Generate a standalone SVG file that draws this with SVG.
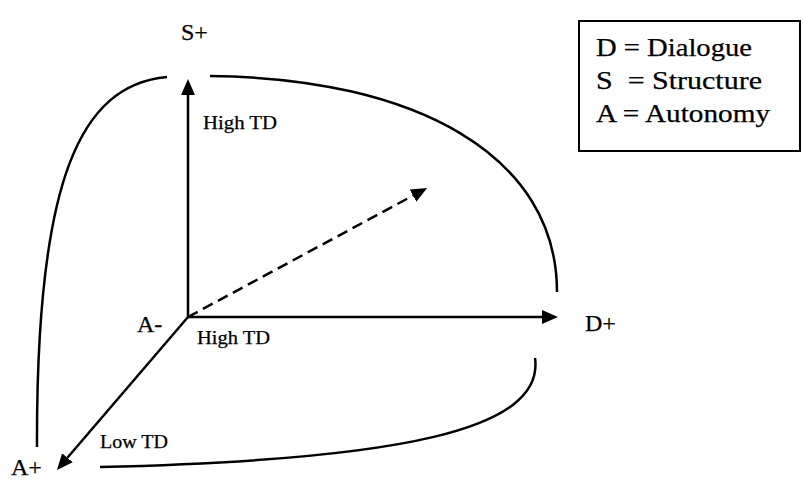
<svg xmlns="http://www.w3.org/2000/svg" width="803" height="481" viewBox="0 0 803 481">
<style>
  .axis{stroke:#000;stroke-width:2.5;fill:none}
  .curve{stroke:#000;stroke-width:2.5;fill:none}
  .dash{stroke:#000;stroke-width:2.5;fill:none;stroke-dasharray:11 6}
  .lbl{font-family:"Liberation Serif","Times New Roman",serif;fill:#000;stroke:#000;stroke-width:0.25}
  .big{font-size:24px}
  .small{font-size:18px}
  .leg{font-size:25px}
</style>
<defs>
  <marker id="ah" markerUnits="userSpaceOnUse" markerWidth="16" markerHeight="14" refX="0" refY="7" orient="auto">
    <path d="M0,0 L16,7 L0,14 z" fill="#000"/>
  </marker>
</defs>
<rect width="803" height="481" fill="#fff"/>
<g id="connectors">
  <line class="axis" x1="188" y1="317" x2="188" y2="95" marker-end="url(#ah)"/>
  <line class="axis" x1="188" y1="317" x2="542" y2="317" marker-end="url(#ah)"/>
  <line class="dash" x1="188" y1="317" x2="413" y2="195.6" marker-end="url(#ah)"/>
  <line class="axis" x1="188" y1="317" x2="67.4" y2="457.8" marker-end="url(#ah)"/>
  <path class="curve" d="M167,77 C80,85 36,180 37,447"/>
  <path class="curve" d="M210,76 C415,78 557,155 557,292"/>
  <path class="curve" d="M535,358 C545,430 400,460 100,467"/>
</g>
<g id="node-s-plus"><text class="lbl big" x="181" y="40">S+</text></g>
<g id="node-d-plus"><text class="lbl big" x="585" y="331">D+</text></g>
<g id="node-a-minus"><text class="lbl big" x="137" y="332">A-</text></g>
<g id="node-a-plus"><text class="lbl big" x="11" y="475">A+</text></g>
<g id="labels">
  <text class="lbl small" x="203" y="129" textLength="74" lengthAdjust="spacingAndGlyphs">High TD</text>
  <text class="lbl small" x="197" y="344" textLength="73" lengthAdjust="spacingAndGlyphs">High TD</text>
  <text class="lbl small" x="100" y="448" textLength="68" lengthAdjust="spacingAndGlyphs">Low TD</text>
</g>
<g id="legend">
  <rect x="579" y="21" width="221" height="130" fill="#fff" stroke="#000" stroke-width="2"/>
  <text class="lbl leg" x="596" y="56" textLength="156" lengthAdjust="spacingAndGlyphs">D = Dialogue</text>
  <text class="lbl leg" x="596" y="89" textLength="166" lengthAdjust="spacingAndGlyphs" xml:space="preserve">S  = Structure</text>
  <text class="lbl leg" x="596" y="122" textLength="174" lengthAdjust="spacingAndGlyphs">A = Autonomy</text>
</g>
</svg>
